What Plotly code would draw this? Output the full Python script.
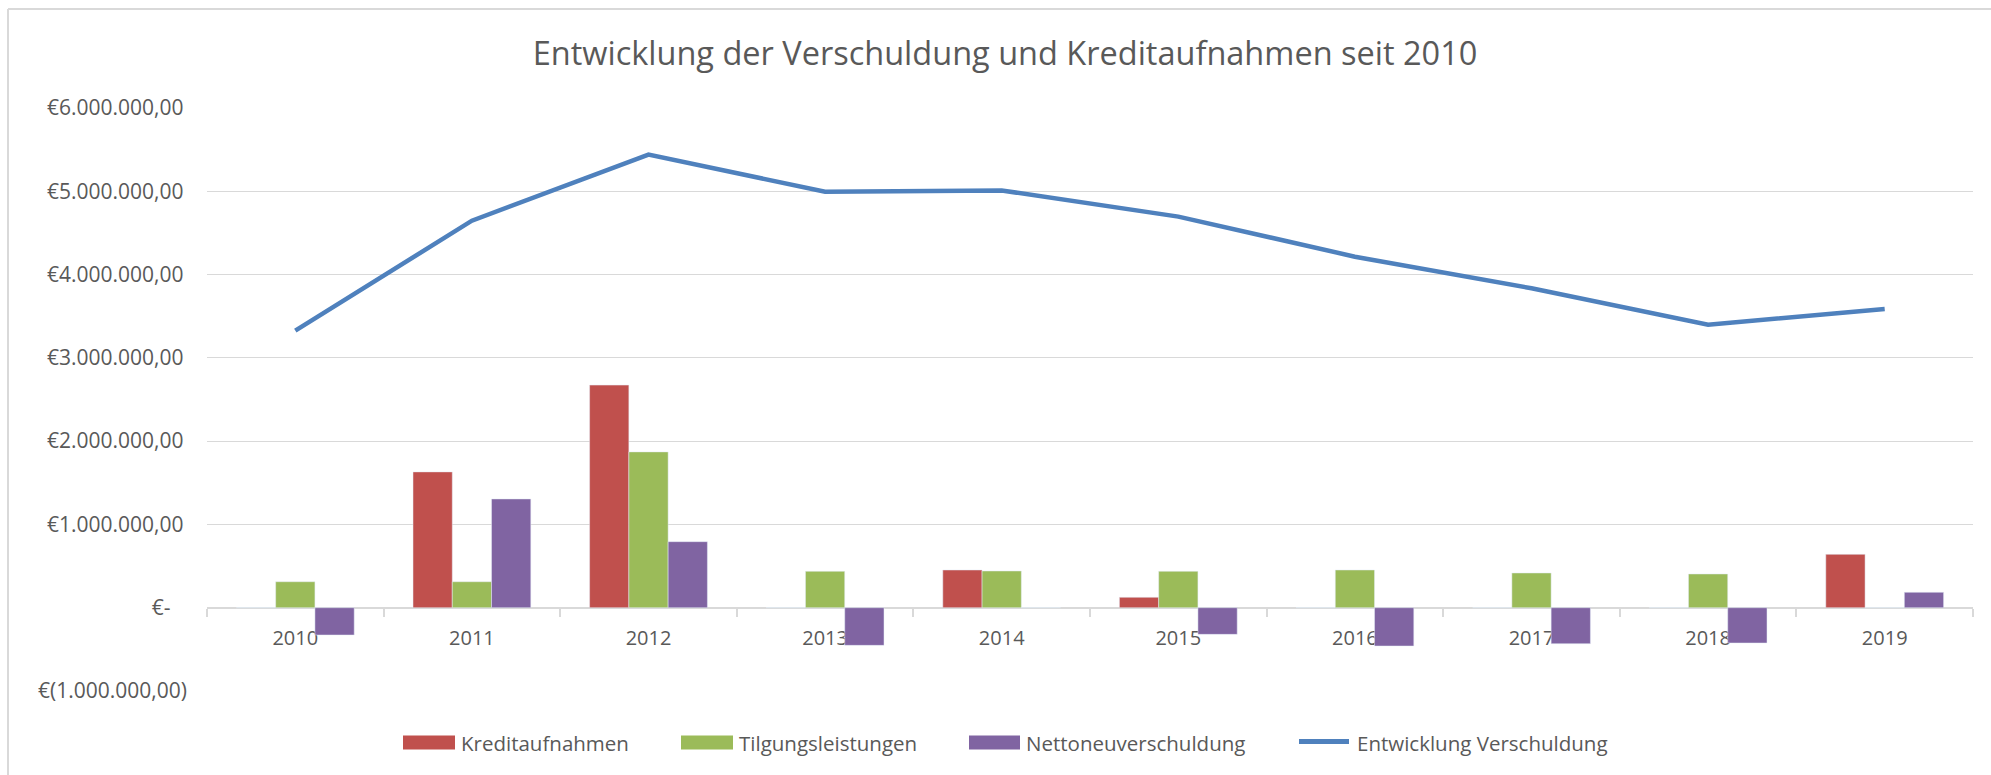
import plotly.graph_objects as go

years = ["2010", "2011", "2012", "2013", "2014", "2015", "2016", "2017", "2018", "2019"]
kreditaufnahmen = [0, 1631000, 2673000, 0, 453000, 125000, 0, 0, 0, 641000]
tilgungsleistungen = [312000, 312000, 1871000, 437000, 441000, 437000, 453000, 417000, 405000, 0]
nettoneuverschuldung = [-328000, 1306000, 793000, -452000, 0, -320000, -460000, -432000, -424000, 185000]
verschuldung = [3326000, 4647000, 5440000, 4995000, 5010000, 4696000, 4215000, 3835000, 3397000, 3587000]

y_tickvals = [6e6, 5e6, 4e6, 3e6, 2e6, 1e6, 0, -1e6]
y_ticktext = ["€6.000.000,00\u2009", "€5.000.000,00\u2009", "€4.000.000,00\u2009", "€3.000.000,00\u2009",
              "€2.000.000,00\u2009", "€1.000.000,00\u2009", "€-\u00a0\u00a0\u00a0", "€(1.000.000,00)"]

series_names = ["Kreditaufnahmen", "Tilgungsleistungen", "Nettoneuverschuldung", "Entwicklung Verschuldung"]
series_colors = ["#C0504D", "#9BBB59", "#8064A2", "#4F81BD"]

W, H = 1991, 775
ML, MR, MT, MB = 207, 18, 108, 84
FONT = "Open Sans"
TXT = "#595959"
GRID = "#D9D9D9"
pw = W - ML - MR
ph = H - MT - MB


def px_x(v):
    return (v - ML) / pw


def px_y(v):
    return (H - MB - v) / ph


fig = go.Figure()
fig.add_trace(go.Bar(name=series_names[0], x=years, y=kreditaufnahmen, marker_color=series_colors[0]))
fig.add_trace(go.Bar(name=series_names[1], x=years, y=tilgungsleistungen, marker_color=series_colors[1]))
fig.add_trace(go.Bar(name=series_names[2], x=years, y=nettoneuverschuldung, marker_color=series_colors[2]))
fig.add_trace(go.Scatter(name=series_names[3], x=years, y=verschuldung, mode="lines",
                         line=dict(color=series_colors[3], width=4.5)))

# chart-area border (left and top edges visible)
fig.add_shape(type="line", xref="paper", yref="paper", x0=px_x(8), x1=px_x(W + 5), y0=px_y(9), y1=px_y(9),
              line=dict(color=GRID, width=2))
fig.add_shape(type="line", xref="paper", yref="paper", x0=px_x(8), x1=px_x(8), y0=px_y(9), y1=px_y(H + 5),
              line=dict(color=GRID, width=2))

# legend (Excel-style wide swatches)
swatch_x = [403, 681, 969, 1297]
swatch_w = [52, 52, 51, 54]
leg_y = 742.5
for i, name in enumerate(series_names):
    x0 = swatch_x[i]
    x1 = x0 + swatch_w[i]
    if i < 3:
        fig.add_shape(type="rect", xref="paper", yref="paper", x0=px_x(x0), x1=px_x(x1),
                      y0=px_y(leg_y - 7), y1=px_y(leg_y + 7), line=dict(width=0),
                      fillcolor=series_colors[i])
    else:
        fig.add_shape(type="line", xref="paper", yref="paper", x0=px_x(x0 + 2), x1=px_x(x1 - 2),
                      y0=px_y(leg_y - 1), y1=px_y(leg_y - 1),
                      line=dict(color=series_colors[i], width=5))
    fig.add_annotation(text=name, xref="paper", yref="paper", x=px_x(x1 + 4), y=px_y(leg_y),
                       xanchor="left", yanchor="middle", showarrow=False,
                       font=dict(size=20.5, color=TXT, family=FONT))

fig.update_layout(
    width=W, height=H,
    margin=dict(l=ML, r=MR, t=MT, b=MB),
    paper_bgcolor="white", plot_bgcolor="white",
    font=dict(family=FONT, color=TXT, size=20),
    title=dict(text="Entwicklung der Verschuldung und Kreditaufnahmen seit 2010",
               x=1005 / W, xanchor="center", y=1 - 54 / H, yanchor="middle",
               font=dict(size=32.5, color=TXT, family=FONT)),
    barmode="group", bargap=0.333, bargroupgap=0,
    showlegend=False,
    xaxis=dict(type="category", anchor="free", position=1 / 7, tickson="boundaries",
               ticks="outside", ticklen=8, tickcolor=GRID, tickwidth=1.5,
               showline=True, linecolor=GRID, linewidth=2, showgrid=False,
               tickfont=dict(size=20, color=TXT), ticklabelstandoff=12, layer="below traces"),
    yaxis=dict(range=[-1e6, 6e6], tickvals=y_tickvals, ticktext=y_ticktext,
               showgrid=True, gridcolor=GRID, gridwidth=1.3, zeroline=False, showline=False,
               ticks="", tickfont=dict(size=21, color=TXT), ticklabelstandoff=19, layer="below traces"),
)

fig.write_html("out.html")
